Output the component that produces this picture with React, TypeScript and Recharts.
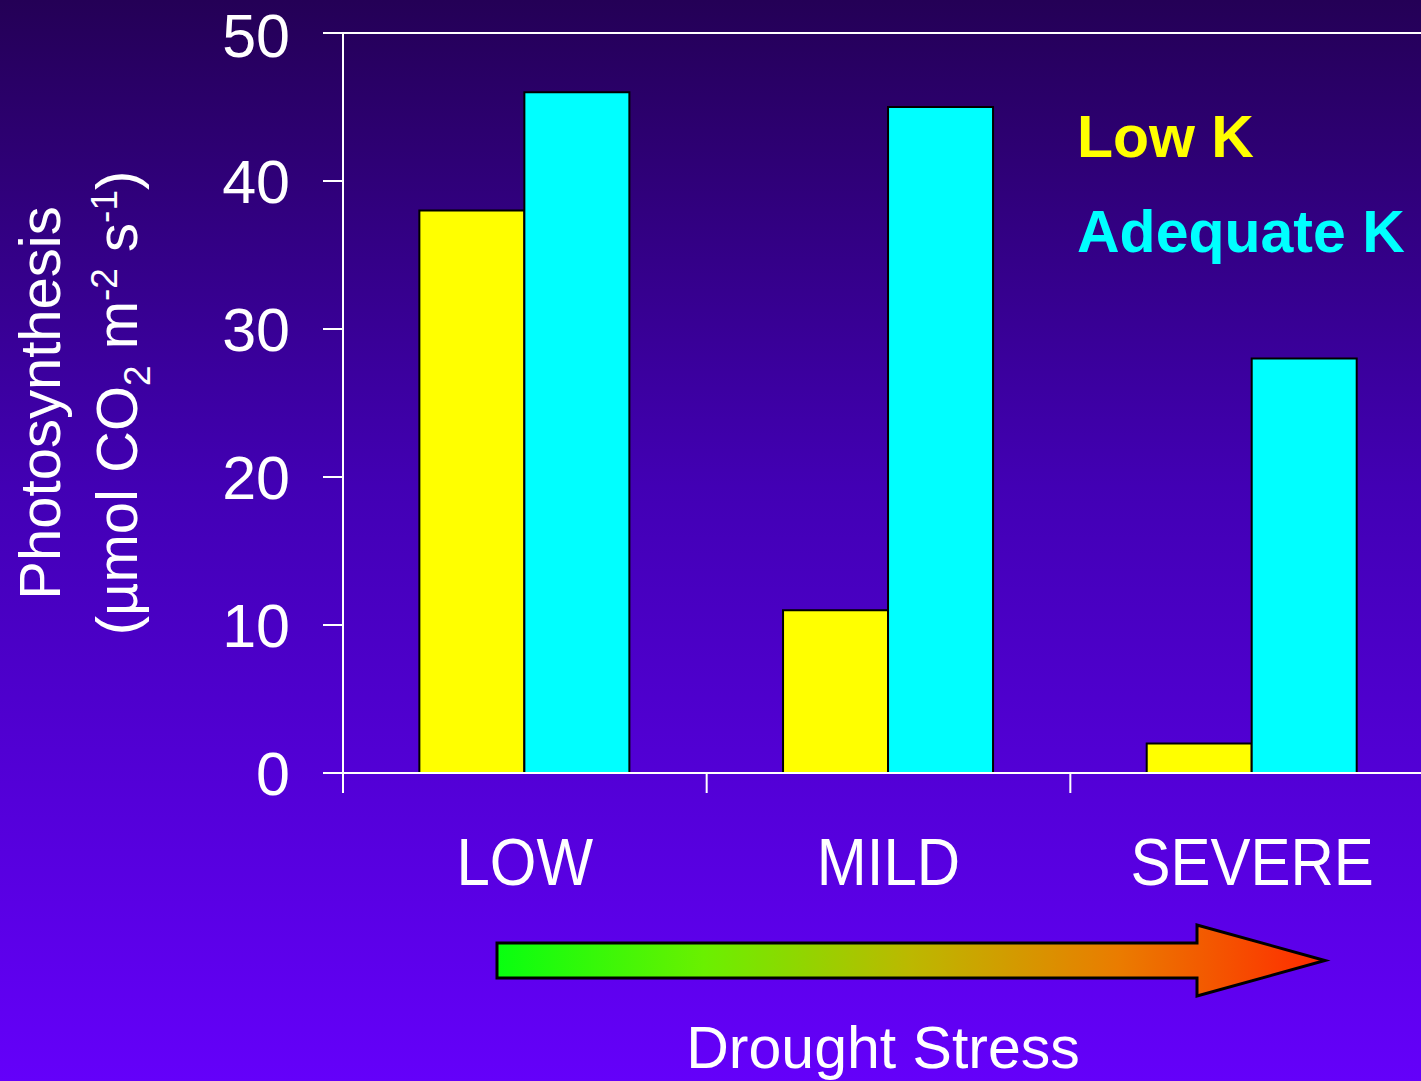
import { BarChart, Bar, XAxis, YAxis, ReferenceLine } from "recharts";

const categories = ["LOW", "MILD", "SEVERE"];
const lowK = [38, 11, 2];
const adequateK = [46, 45, 28];
const yTicks = [0, 10, 20, 30, 40, 50];
const boundaryTicks = [0, 1, 2, 3];
const seriesNames = ["Low K", "Adequate K"];
const seriesColors = ["#ffff00", "#00ffff"];

const data = categories.map((stress, i) => ({
  stress,
  pos: i + 0.5,
  low: lowK[i],
  adequate: adequateK[i],
}));

const font = "'Liberation Sans', Arial, Helvetica, sans-serif";

function YLabel({ viewBox }: any) {
  const cy = viewBox.y + viewBox.height / 2;
  const x1 = viewBox.x + 60;
  const x2 = viewBox.x + 137;
  return (
    <g fill="#fff" fontSize={58} fontFamily={font}>
      <text x={x1} y={cy} textAnchor="middle" transform={`rotate(-90 ${x1} ${cy})`}>
        Photosynthesis
      </text>
      <text x={x2} y={cy} textAnchor="middle" transform={`rotate(-90 ${x2} ${cy})`}>
        (µmol CO
        <tspan fontSize={37} dy={13}>2</tspan>
        <tspan dy={-13}> m</tspan>
        <tspan fontSize={37} dy={-20}>-2</tspan>
        <tspan dy={20}> s</tspan>
        <tspan fontSize={37} dy={-20}>-1</tspan>
        <tspan dy={20}>)</tspan>
      </text>
    </g>
  );
}

// category names are a little taller than plain Arial in the original slide
function CategoryTick({ x, y, payload }: any) {
  return (
    <g transform={`translate(${x} ${y}) scale(1 1.1)`}>
      <text x={0} y={0} dy="0.71em" textAnchor="middle" fill="#fff" fontSize={60}>
        {payload.value}
      </text>
    </g>
  );
}

export default function App() {
  return (
    <div
      style={{
        position: "absolute",
        left: 0,
        top: 0,
        width: 1421,
        height: 1081,
        overflow: "hidden",
        fontFamily: font,
        background: "linear-gradient(to bottom, #240056 0%, #4200b4 45%, #6400fa 100%)",
      }}
    >
      <BarChart
        width={1440}
        height={1081}
        data={data}
        margin={{ top: 33, right: 6, left: 0, bottom: 168 }}
        barCategoryGap="21%"
        barGap={0}
      >
        <XAxis
          xAxisId="bounds"
          dataKey="pos"
          type="number"
          domain={[0, 3]}
          ticks={boundaryTicks}
          allowDataOverflow
          height={20}
          tick={() => <g />}
          tickSize={20}
          tickLine={{ stroke: "#fff", strokeWidth: 2 }}
          axisLine={false}
        />
        <XAxis
          xAxisId="cat"
          dataKey="stress"
          height={120}
          tickLine={false}
          tickSize={0}
          tickMargin={45}
          axisLine={false}
          interval={0}
          tick={CategoryTick}
        />
        <YAxis
          domain={[0, 50]}
          ticks={yTicks}
          width={343}
          tickSize={20}
          tickMargin={33}
          tick={{ fill: "#fff", fontSize: 61 }}
          tickLine={{ stroke: "#fff", strokeWidth: 2 }}
          axisLine={{ stroke: "#fff", strokeWidth: 2 }}
          label={{ content: YLabel }}
        />
        <ReferenceLine xAxisId="cat" y={0} stroke="#fff" strokeWidth={2} />
        <ReferenceLine xAxisId="cat" y={50} stroke="#fff" strokeWidth={2} />
        <Bar
          xAxisId="cat"
          dataKey="low"
          name={seriesNames[0]}
          fill={seriesColors[0]}
          stroke="#000"
          strokeWidth={2}
          isAnimationActive={false}
        />
        <Bar
          xAxisId="cat"
          dataKey="adequate"
          name={seriesNames[1]}
          fill={seriesColors[1]}
          stroke="#000"
          strokeWidth={2}
          isAnimationActive={false}
        />
      </BarChart>
      <svg
        width={1421}
        height={1081}
        style={{ position: "absolute", left: 0, top: 0, pointerEvents: "none" }}
      >
        <defs>
          <linearGradient id="drought" x1={497} x2={1325} y1={0} y2={0} gradientUnits="userSpaceOnUse">
            <stop offset="0%" stopColor="#08ff10" />
            <stop offset="25%" stopColor="#6af000" />
            <stop offset="50%" stopColor="#bcb800" />
            <stop offset="75%" stopColor="#ea7c00" />
            <stop offset="100%" stopColor="#ff2a00" />
          </linearGradient>
        </defs>
        <polygon
          points="497,943 1197,943 1197,925 1325,960.5 1197,996 1197,978 497,978"
          fill="url(#drought)"
          stroke="#000"
          strokeWidth={3}
        />
        <text x={883} y={1068} textAnchor="middle" fill="#fff" fontSize={59} fontFamily={font}>
          Drought Stress
        </text>
        {seriesNames.map((n, i) => (
          <text
            key={n}
            x={1077}
            y={157 + i * 95}
            fill={seriesColors[i]}
            fontSize={59}
            fontWeight="bold"
            fontFamily={font}
          >
            {n}
          </text>
        ))}
      </svg>
    </div>
  );
}
